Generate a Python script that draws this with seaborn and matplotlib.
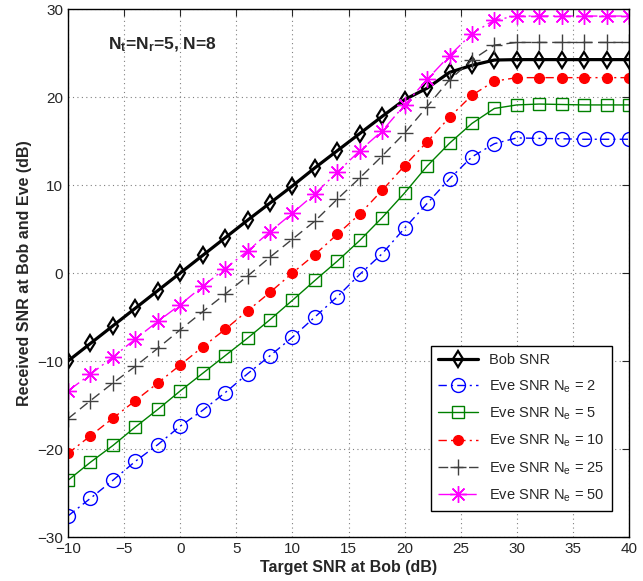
import matplotlib
matplotlib.use("Agg")
import matplotlib.pyplot as plt
import seaborn as sns

# values
target_snr = [-10, -8, -6, -4, -2, 0, 2, 4, 6, 8, 10, 12, 14, 16, 18,
              20, 22, 24, 26, 28, 30, 32, 34, 36, 38, 40]

bob_snr = [-10, -8, -6, -4, -2, 0, 2, 4, 6, 7.95, 9.9, 11.95, 13.9, 15.85, 17.8,
           19.7, 21.0, 22.8, 23.6, 24.2, 24.25, 24.25, 24.25, 24.25, 24.25, 24.25]
eve_ne2 = [-27.6, -25.6, -23.55, -21.4, -19.5, -17.4, -15.6, -13.6, -11.45, -9.4,
           -7.3, -5.0, -2.7, -0.15, 2.2, 5.1, 7.9, 10.7, 13.2, 14.7,
           15.35, 15.3, 15.25, 15.2, 15.2, 15.2]
eve_ne5 = [-23.55, -21.5, -19.6, -17.5, -15.5, -13.4, -11.4, -9.4, -7.4, -5.3,
           -3.1, -0.85, 1.35, 3.7, 6.3, 9.1, 12.15, 14.75, 17.0, 18.7,
           19.1, 19.2, 19.15, 19.1, 19.1, 19.1]
eve_ne10 = [-20.5, -18.5, -16.5, -14.5, -12.5, -10.45, -8.4, -6.4, -4.3, -2.2,
            0.0, 2.1, 4.4, 6.7, 9.4, 12.2, 14.9, 17.7, 20.2, 21.8,
            22.2, 22.2, 22.2, 22.2, 22.2, 22.2]
eve_ne25 = [-16.55, -14.5, -12.5, -10.6, -8.55, -6.45, -4.4, -2.4, -0.35, 1.8,
            3.85, 5.9, 8.4, 10.8, 13.3, 15.9, 18.9, 21.95, 24.2, 25.9,
            26.2, 26.2, 26.2, 26.2, 26.2, 26.2]
eve_ne50 = [-13.4, -11.5, -9.55, -7.5, -5.5, -3.6, -1.5, 0.5, 2.5, 4.7,
            6.8, 9.0, 11.45, 13.9, 16.15, 19.1, 22.0, 24.7, 27.2, 28.75,
            29.2, 29.2, 29.2, 29.2, 29.2, 29.2]

labels = ["Bob SNR",
          r"Eve SNR N$_{\mathrm{e}}$ = 2",
          r"Eve SNR N$_{\mathrm{e}}$ = 5",
          r"Eve SNR N$_{\mathrm{e}}$ = 10",
          r"Eve SNR N$_{\mathrm{e}}$ = 25",
          r"Eve SNR N$_{\mathrm{e}}$ = 50"]

sns.set_style("white")
plt.rcParams["font.family"] = ["Liberation Sans", "DejaVu Sans"]
plt.rcParams["mathtext.fontset"] = "custom"
plt.rcParams["mathtext.rm"] = "Liberation Sans"
plt.rcParams["mathtext.it"] = "Liberation Sans:italic"
plt.rcParams["mathtext.bf"] = "Liberation Sans:bold"

fig = plt.figure(figsize=(6.43, 5.81), dpi=100)
ax = fig.add_axes([0.1058, 0.0757, 0.8725, 0.9088])

styles = [
    dict(color="black", linestyle="-", linewidth=2.3, marker="d", markersize=8.5,
         markerfacecolor="none", markeredgecolor="black", markeredgewidth=1.6),
    dict(color="blue", linestyle=(0, (6, 3, 1.5, 3)), linewidth=1.0, marker="o", markersize=10,
         markerfacecolor="none", markeredgecolor="blue", markeredgewidth=1.0),
    dict(color="green", linestyle="-", linewidth=1.0, marker="s", markersize=9,
         markerfacecolor="none", markeredgecolor="green", markeredgewidth=1.0),
    dict(color="red", linestyle=(0, (6, 3, 1.5, 3)), linewidth=1.0, marker="o", markersize=7,
         markerfacecolor="red", markeredgecolor="red", markeredgewidth=1.0),
    dict(color="#404040", linestyle=(0, (7, 4)), linewidth=1.0, marker="+", markersize=12,
         markerfacecolor="none", markeredgecolor="#404040", markeredgewidth=1.0),
    dict(color="magenta", linestyle=(0, (10, 3, 1.5, 3)), linewidth=1.0, marker=(8, 2, 0), markersize=12,
         markerfacecolor="none", markeredgecolor="magenta", markeredgewidth=1.0),
]

series = [bob_snr, eve_ne2, eve_ne5, eve_ne10, eve_ne25, eve_ne50]
for vals, lab, st in zip(series, labels, styles):
    sns.lineplot(x=target_snr, y=vals, ax=ax, label=lab, **st)

ax.set_xlim(-10, 40)
ax.set_ylim(-30, 30)
ax.set_xticks(range(-10, 41, 5))
ax.set_yticks(range(-30, 31, 10))
ax.grid(True, linestyle=(0, (1, 3)), color="#808080", linewidth=0.8)
ax.tick_params(direction="in", top=True, right=True, labelsize=11, length=5, width=0.8)
for sp in ax.spines.values():
    sp.set_linewidth(1.0)
    sp.set_color("black")

ax.set_xlabel("Target SNR at Bob (dB)", fontsize=11.5, fontweight="bold", labelpad=3)
ax.set_ylabel("Received SNR at Bob and Eve (dB)", fontsize=11.5, fontweight="bold", labelpad=4)

ax.text(-6.4, 25.9, r"$\mathbf{N_t}$=$\mathbf{N_r}$=5, N=8", fontsize=12.5,
        fontweight="bold", va="center", ha="left")

leg = ax.legend(loc="lower right", bbox_to_anchor=(0.97, 0.049), borderaxespad=0,
                fontsize=10.5, frameon=True, fancybox=False, edgecolor="black",
                framealpha=1, handlelength=2.7, borderpad=0.5, labelspacing=0.75)
leg.get_frame().set_linewidth(1.0)

fig.savefig("out.png", dpi=100)
